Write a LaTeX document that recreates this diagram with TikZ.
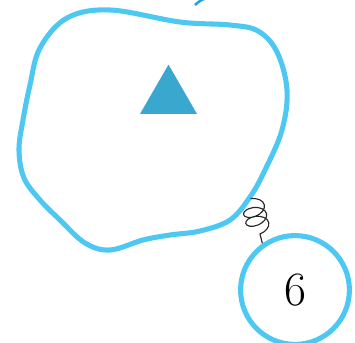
\documentclass[tikz,border=0pt]{standalone}
\usepackage{tikz}
\usetikzlibrary{shapes.geometric, decorations.pathmorphing}

\definecolor{blobblue}{HTML}{4DC8F2}
\definecolor{markblue}{HTML}{3AA8CE}
\definecolor{edgeblue}{HTML}{1FA3E2}

\begin{document}
\begin{tikzpicture}[
  x=0.025cm, y=-0.025cm,
  outline/.style={line width=3.6pt, blobblue, line join=round},
  marker/.style={regular polygon, regular polygon sides=3, fill=markblue, inner sep=0pt, minimum size=1.645cm},
  ball/.style={circle, draw=blobblue, line width=3.6pt, inner sep=0pt, minimum size=2.72cm, font=\fontsize{34}{34}\selectfont},
  spring/.style={decorate, decoration={coil, amplitude=8pt, segment length=6.5pt, aspect=0.6, pre length=0.5pt, post length=1pt}, line width=0.8pt, black!85}
]
  \useasboundingbox (0,0) rectangle (355,342);

  % cell outline
  \draw[outline] plot[smooth cycle, tension=0.6] coordinates {
    (110,10) (180,22) (230,25) (258,31) (277,52) (287,90) (282,130)
    (265,170) (250,197) (230,220) (200,231) (170,235) (143,240) (110,250)
    (85,243) (60,220) (40,200) (24,178) (19,150) (23,120) (30,85) (40,48) (67,18)};

  \node[marker] (mark) at (168.5,97.5) {};
  \node[ball] (six) at (295,290) {6};

  \coordinate (hook) at (251,198);
  \coordinate (tip) at (195,5);
  \coordinate (tipend) at (206,-2);

  \draw[spring] (hook) -- (six.125);
  \draw[edgeblue, line width=1.8pt] (tip) to[bend left=10] (tipend);
\end{tikzpicture}
\end{document}
